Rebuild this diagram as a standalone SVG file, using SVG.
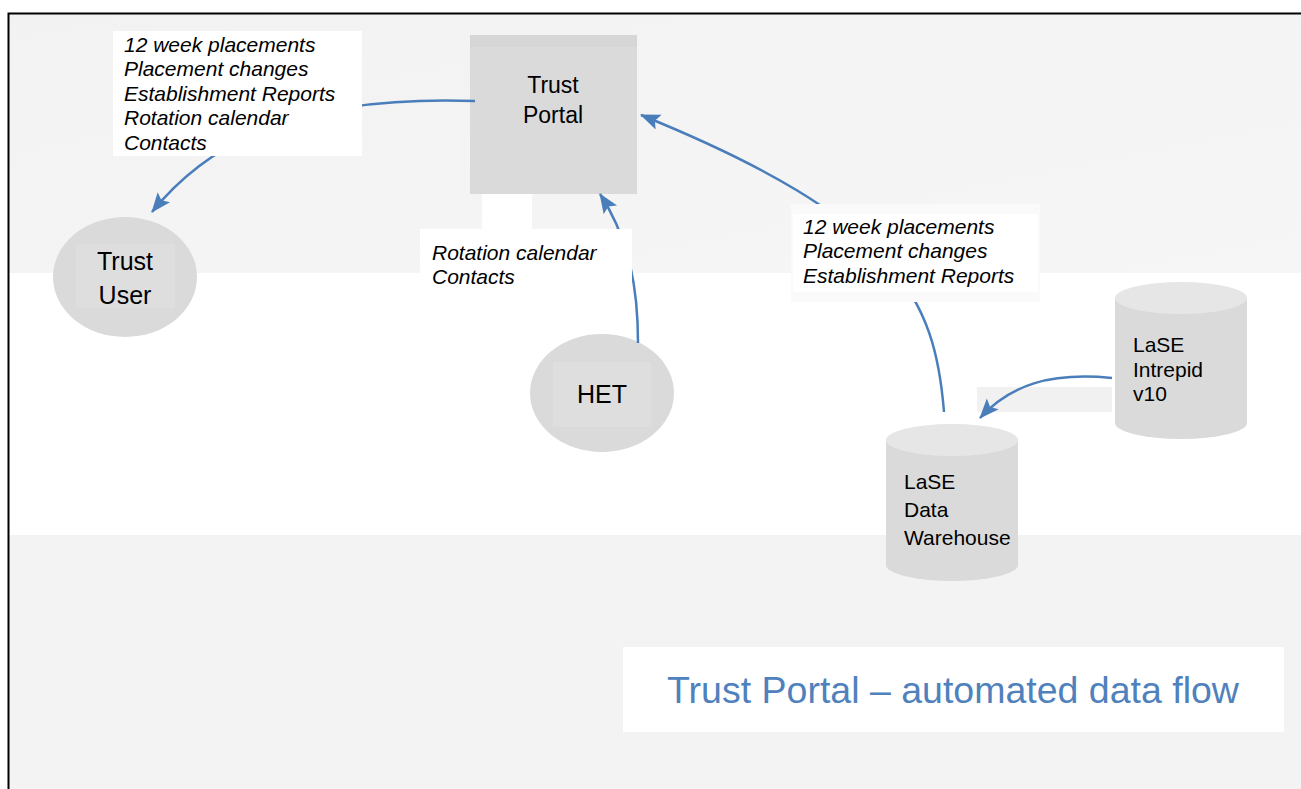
<svg xmlns="http://www.w3.org/2000/svg" width="1301" height="789" viewBox="0 0 1301 789">
<style>
.node{fill:#dadada}
.inner{fill:#dedede}
.cyltop{fill:#e6e6e6}
.t{font-family:"Liberation Sans",Arial,sans-serif;fill:#000}
.lbl{font-family:"Liberation Sans",Arial,sans-serif;font-style:italic;font-size:21px;fill:#000}
.con{fill:none;stroke:#4a7ebb;stroke-width:2.5}
</style>
<defs>
<marker id="ah" markerUnits="userSpaceOnUse" markerWidth="22" markerHeight="18" refX="19" refY="8" orient="auto">
<path d="M0,0 L20,8 L0,16 L4,8 Z" fill="#4a7ebb"/>
</marker>
<linearGradient id="bgTop" x1="0" y1="0" x2="1" y2="1">
<stop offset="0" stop-color="#f2f2f2"/><stop offset="1" stop-color="#f6f6f6"/>
</linearGradient>
</defs>
<rect x="0" y="0" width="1301" height="789" fill="#fff"/>
<g id="background">
<rect x="9" y="14" width="1292" height="259" fill="url(#bgTop)"/>
<rect x="9" y="273" width="1292" height="262" fill="#fff"/>
<rect x="9" y="535" width="1292" height="254" fill="#f3f3f3"/>
<rect x="8.5" y="13.5" width="1300" height="800" fill="none" stroke="#000" stroke-width="2"/>
<rect x="482" y="193" width="50" height="37" fill="#fff"/>
<rect x="977" y="387" width="135" height="25" fill="#f1f1f1"/>
</g>
<g id="trust-portal">
<rect class="node" x="470" y="35" width="167" height="159"/>
<rect x="470" y="35" width="167" height="12" fill="#d6d6d6"/>
<text class="t" font-size="23" text-anchor="middle" x="553" y="93">Trust</text>
<text class="t" font-size="23" text-anchor="middle" x="553" y="123">Portal</text>
</g>
<g id="trust-user">
<ellipse class="node" cx="125" cy="277" rx="72" ry="60"/>
<rect class="inner" x="76" y="244" width="99" height="64"/>
<text class="t" font-size="25" text-anchor="middle" x="125" y="270">Trust</text>
<text class="t" font-size="25" text-anchor="middle" x="125" y="304">User</text>
</g>
<g id="het">
<ellipse class="node" cx="602" cy="393" rx="72" ry="59"/>
<rect class="inner" x="553" y="362" width="98" height="65"/>
<text class="t" font-size="25" text-anchor="middle" x="602" y="403">HET</text>
</g>
<g id="lase-intrepid">
<path class="node" d="M1115,298 L1115,423 A66,16 0 0 0 1247,423 L1247,298 Z"/>
<ellipse class="cyltop" cx="1181" cy="298" rx="66" ry="16"/>
<text class="t" font-size="21" x="1133" y="352">LaSE</text>
<text class="t" font-size="21" x="1133" y="377">Intrepid</text>
<text class="t" font-size="21" x="1133" y="401">v10</text>
</g>
<g id="lase-data-warehouse">
<path class="node" d="M886,440 L886,565 A66,16 0 0 0 1018,565 L1018,440 Z"/>
<ellipse class="cyltop" cx="952" cy="440" rx="66" ry="16"/>
<text class="t" font-size="21" x="904" y="489">LaSE</text>
<text class="t" font-size="21" x="904" y="517">Data</text>
<text class="t" font-size="21" x="904" y="545">Warehouse</text>
</g>
<g id="connectors">
<path class="con" d="M475,101 C300,95 210,140 152,212" marker-end="url(#ah)"/>
<path class="con" d="M638,343 C638,290 630,240 600,194" marker-end="url(#ah)"/>
<path class="con" d="M944,412 C935,300 900,220 641,115" marker-end="url(#ah)"/>
<path class="con" d="M1112,378 C1050,372 1010,385 980,418" marker-end="url(#ah)"/>
</g>
<g id="labels">
<rect x="113" y="31" width="249" height="125" fill="#fff"/>
<text class="lbl" x="124" y="52">12 week placements</text>
<text class="lbl" x="124" y="76">Placement changes</text>
<text class="lbl" x="124" y="101">Establishment Reports</text>
<text class="lbl" x="124" y="125">Rotation calendar</text>
<text class="lbl" x="124" y="150">Contacts</text>
<rect x="420" y="229" width="212" height="71" fill="#fff"/>
<text class="lbl" x="432" y="260">Rotation calendar</text>
<text class="lbl" x="432" y="284">Contacts</text>
<rect x="791" y="204" width="249" height="98" fill="#fafafa"/>
<rect x="793" y="214" width="245" height="78" fill="#fff"/>
<text class="lbl" x="803" y="234">12 week placements</text>
<text class="lbl" x="803" y="258">Placement changes</text>
<text class="lbl" x="803" y="283">Establishment Reports</text>
</g>
<g id="title">
<rect x="623" y="647" width="661" height="85" fill="#fff"/>
<text font-family="Liberation Sans,Arial,sans-serif" font-size="37.5" fill="#4f81bd" x="953" y="703" text-anchor="middle">Trust Portal – automated data flow</text>
</g>
</svg>
